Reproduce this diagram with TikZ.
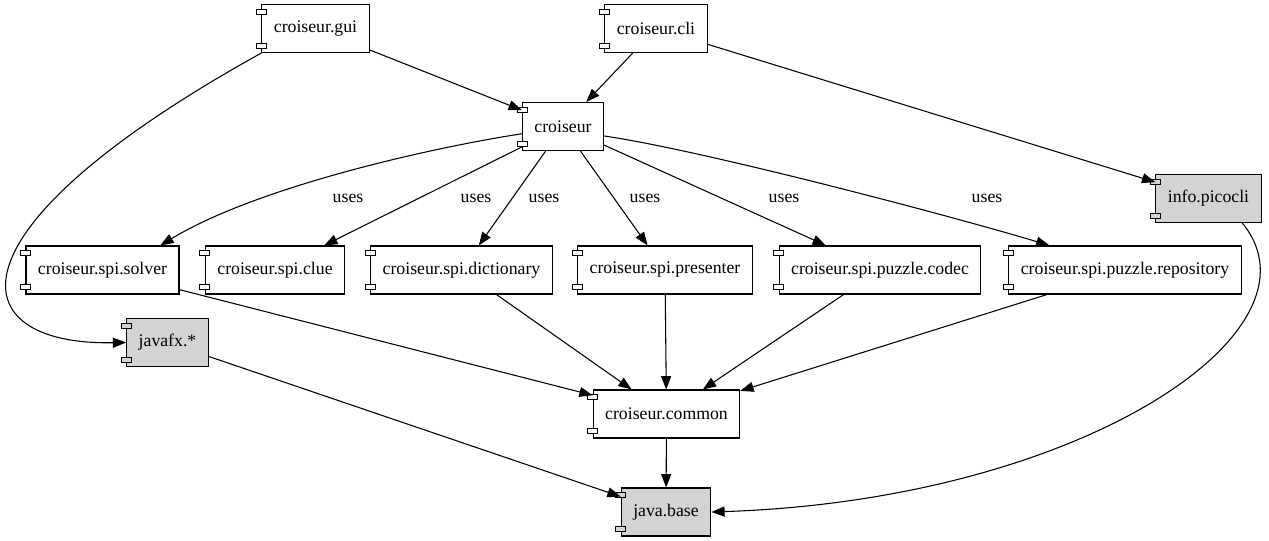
\documentclass[tikz,border=0pt]{standalone}
\usepackage{fontspec}
\setmainfont{Liberation Serif}
\usetikzlibrary{arrows.meta}
\definecolor{modgray}{HTML}{D3D3D3}

\begin{document}
\begin{tikzpicture}[x=0.75pt,y=-0.75pt,
	comp/.style={draw,fill=white,line width=0.8pt,inner xsep=9pt,minimum height=36pt,font=\fontsize{13.3}{16}\selectfont},
	extmod/.style={comp,fill=modgray},
	dep/.style={line width=0.8pt,-{Triangle[length=10pt,width=7.5pt]}},
	uselbl/.style={font=\fontsize{13.3}{16}\selectfont}]
	\useasboundingbox (0,0) rectangle (1269,541);
	\node[comp] (gui) at (315.5,28.5) {croiseur.gui};
	\node[comp] (cli) at (656,28.5) {croiseur.cli};
	\node[comp] (croiseur) at (563,126.5) {croiseur};
	\node[extmod] (picocli) at (1208.5,198.5) {info.picocli};
	\node[comp] (solver) at (102.5,270) {croiseur.spi.solver};
	\node[comp] (clue) at (275,270) {croiseur.spi.clue};
	\node[comp] (dict) at (461.5,270) {croiseur.spi.dictionary};
	\node[comp] (presenter) at (665,270) {croiseur.spi.presenter};
	\node[comp] (codec) at (880,270) {croiseur.spi.puzzle.codec};
	\node[comp] (repo) at (1125,270) {croiseur.spi.puzzle.repository};
	\node[extmod] (javafx) at (167.5,342.5) {javafx.*};
	\node[comp] (common) at (666.5,414) {croiseur.common};
	\node[extmod] (javabase) at (666,512) {java.base};
	\foreach \n/\c in {gui/white,cli/white,croiseur/white,picocli/modgray,solver/white,clue/white,dict/white,presenter/white,codec/white,repo/white,javafx/modgray,common/white,javabase/modgray}{
		\draw[fill=\c,line width=0.6pt] ([shift={(-5,5)}]\n.north west) rectangle +(10,5);
		\draw[fill=\c,line width=0.6pt] ([shift={(-5,-10)}]\n.south west) rectangle +(10,5);}
	\draw[dep] (gui) -- (croiseur);
	\draw[dep] (cli) -- (croiseur);
	\draw[dep] (cli) -- (picocli);
	\draw[dep] (gui.south west) .. controls +(-323,179) and +(-166,3) .. (javafx.west);
	\draw[dep] (croiseur.190) .. controls +(-103,16) and +(92,-56) .. (solver.23);
	\draw[dep] (croiseur) -- (clue);
	\draw[dep] (croiseur) -- (dict);
	\draw[dep] (croiseur) -- (presenter);
	\draw[dep] (croiseur) -- (codec);
	\draw[dep] (croiseur.347) .. controls +(97,14) and +(-100,-30) .. (repo.162);
	\foreach \n in {solver,dict,presenter,codec,repo}{
		\draw[dep] (\n) -- (common);}
	\draw[dep] (common) -- (javabase);
	\draw[dep] (javafx) -- (javabase);
	\draw[dep] (picocli.324) .. controls +(89,108) and +(369,-12) .. (javabase.east);
	\node[uselbl] (u1) at (348,198) {uses};
	\node[uselbl] (u2) at (476,198) {uses};
	\node[uselbl] (u3) at (544,198) {uses};
	\node[uselbl] (u4) at (645,198) {uses};
	\node[uselbl] (u5) at (784,198) {uses};
	\node[uselbl] (u6) at (987,198) {uses};
\end{tikzpicture}
\end{document}
